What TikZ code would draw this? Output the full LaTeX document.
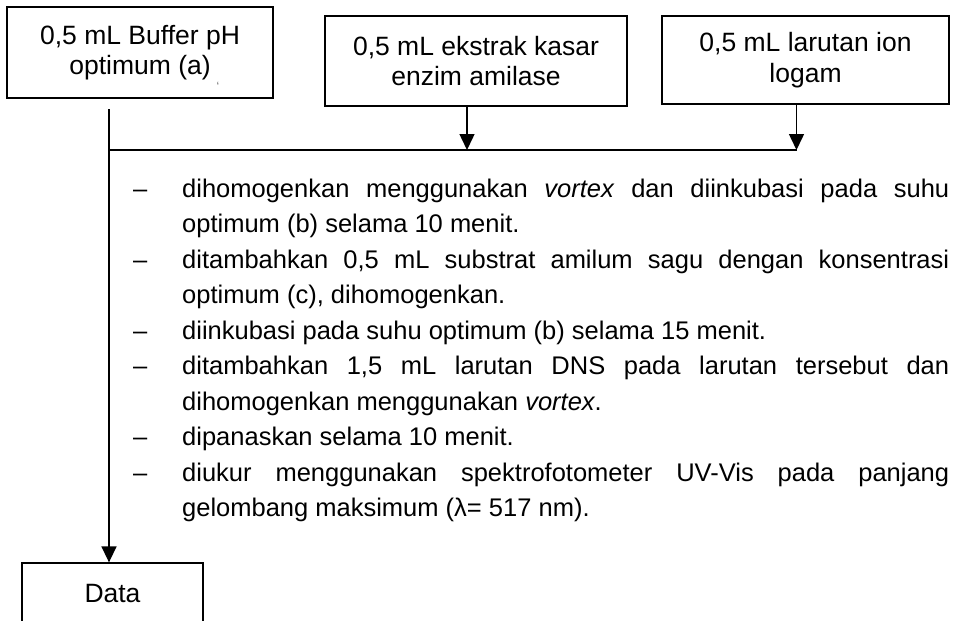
\documentclass[tikz,border=0pt]{standalone}
\usepackage{fontspec}
\setmainfont{Liberation Sans}
\usetikzlibrary{arrows.meta}
\begin{document}
\begin{tikzpicture}[x=1pt,y=-1pt,
  box/.style={draw, line width=1.3pt, rectangle, inner sep=0pt, align=center,
    font=\fontsize{26.5}{30.5}\selectfont},
  conn/.style={line width=1.5pt},
  arr/.style={conn, -{Triangle[width=15pt,length=16pt]}},
  itemtext/.style={anchor=base west, inner sep=0pt, text width=767pt, align=justify,
    font=\fontsize{25.5}{35.55}\selectfont},
  dashmark/.style={anchor=base west, inner sep=0pt, font=\fontsize{25.5}{35.55}\selectfont}]
\useasboundingbox (0,0) rectangle (964,621);
\clip (0,0) rectangle (964,621);
% boxes
\node[box, minimum width=266pt, minimum height=91pt] (b1) at (140,52.5) {0,5 mL Buffer pH\\optimum (a)};
\node[inner sep=0pt, text=black!60, font=\fontsize{12}{12}\selectfont] (tick) at (218,86) {`};
\node[box, minimum width=302pt, minimum height=90pt] (b2) at (476,61) {0,5 mL ekstrak kasar\\enzim amilase};
\node[box, minimum width=287pt, minimum height=88pt] (b3) at (805.5,60) {0,5 mL larutan ion\\logam};
\node[box, minimum width=181pt, minimum height=61pt] (data) at (112.5,593.5) {Data};
% connectors
\coordinate (vtop) at (109,109);
\coordinate (junc) at (109,150);
\coordinate (a2) at ([xshift=-9pt]b2.south);
\coordinate (a3) at ([xshift=-9pt]b3.south);
\draw[arr] (vtop) -- (vtop |- data.north);
\draw[conn] (junc) -- (a3 |- junc);
\draw[arr] (a2) -- (a2 |- junc);
\draw[arr] (a3) -- (a3 |- junc);
% steps
\node[dashmark] (d1) at (133,197) {–};
\node[itemtext] (t1) at (182,197) {\tolerance=10000\relax dihomogenkan menggunakan \textit{vortex} dan diinkubasi pada suhu\linebreak optimum (b) selama 10 menit.};
\node[dashmark] (d2) at (133,268.1) {–};
\node[itemtext] (t2) at (182,268.1) {\tolerance=10000\relax ditambahkan 0,5 mL substrat amilum sagu dengan konsentrasi\linebreak optimum (c), dihomogenkan.};
\node[dashmark] (d3) at (133,339.2) {–};
\node[itemtext] (t3) at (182,339.2) {diinkubasi pada suhu optimum (b) selama 15 menit.};
\node[dashmark] (d4) at (133,374.75) {–};
\node[itemtext] (t4) at (182,374.75) {\tolerance=10000\relax ditambahkan 1,5 mL larutan DNS pada larutan tersebut dan\linebreak dihomogenkan menggunakan \textit{vortex}.};
\node[dashmark] (d5) at (133,445.85) {–};
\node[itemtext] (t5) at (182,445.85) {dipanaskan selama 10 menit.};
\node[dashmark] (d6) at (133,481.4) {–};
\node[itemtext] (t6) at (182,481.4) {\tolerance=10000\relax diukur menggunakan spektrofotometer UV-Vis pada panjang\linebreak gelombang maksimum (λ= 517 nm).};
\end{tikzpicture}
\end{document}
